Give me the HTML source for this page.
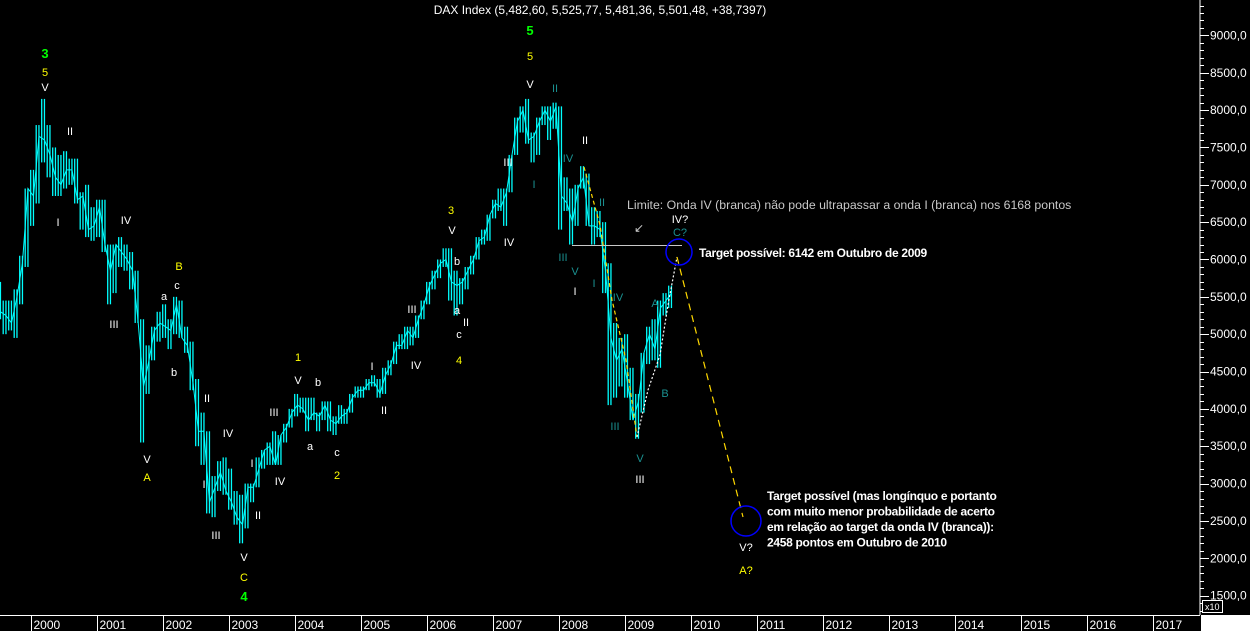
<!DOCTYPE html>
<html><head><meta charset="utf-8"><style>
html,body{margin:0;padding:0;background:#000;}
svg{display:block;}
text{font-family:"Liberation Sans",sans-serif;}
</style></head><body>
<svg id="chart" width="1250" height="631" viewBox="0 0 1250 631" xmlns="http://www.w3.org/2000/svg">
<rect width="1250" height="631" fill="#000"/>
<g id="grid"></g>
<g id="bars"></g>
<g id="ann"></g>
</svg>
<script>
const startYear = 1999.5; // July 1999
const highs = [5700,5450,5450,5600,6050,6950,
7200,7800,8150,7800,7500,7400,7450,7350,7350,6900,7000,6700,
6800,6800,6200,6200,6300,6200,6100,5850,5200,4850,5100,5300,
5400,5200,5500,5450,5100,4900,4400,3950,3700,3100,3300,3350,
3200,2900,2850,3000,3000,3350,3450,3550,3700,3650,3800,4000,
4200,4150,4150,4150,3950,4100,4100,3900,4050,4000,4200,4300,
4300,4400,4450,4400,4550,4650,4900,5000,5100,5100,5250,5450,
5700,5850,6000,6150,6150,5850,5750,5900,6050,6300,6400,6600,
6800,6950,6950,7400,7900,8050,8150,7700,7900,8050,8050,8100,
8050,7100,6950,7000,7250,7150,6700,6650,6500,5950,5150,4950,
5000,4550,4200,4750,5100,5200,5450,5550,5650];
const lows = [5200,5000,5050,4950,5400,5900,
6450,6750,7300,7100,6850,6850,6950,7000,6750,6400,6300,6250,
6300,6100,5400,5550,5900,5850,5600,5150,3550,4200,4650,4900,
4950,4800,5000,4950,4750,4250,3500,3250,2600,2550,2900,2850,
2650,2450,2200,2400,2750,2950,3200,3250,3250,3250,3550,3750,
3900,3950,3700,3850,3700,3850,3700,3650,3800,3800,3950,4150,
4150,4250,4300,4150,4200,4450,4600,4800,4800,4850,4950,5200,
5400,5600,5750,5900,5450,5250,5400,5600,5800,6000,6200,6250,
6550,6650,6450,6900,7400,7700,7550,7300,7400,7800,7600,7750,
6400,6650,6200,6450,6950,6450,6200,6300,5550,4050,4150,4300,
4150,3850,3600,3950,4600,4650,4550,5250,5350];
const closes = [5300,5250,5150,5500,5950,6950,
6850,7650,7600,7400,7100,7000,7200,7200,6800,6850,6400,6450,
6700,6200,5850,6200,6100,6000,5850,5200,4300,4650,5050,5150,
5100,5050,5400,4950,4850,4350,3700,3700,2750,2950,3150,2900,
2750,2550,2450,2950,2950,3200,3450,3500,3250,3650,3750,3950,
4050,4000,3850,3950,3900,4050,3850,3800,3900,3950,4150,4250,
4250,4350,4350,4200,4450,4600,4850,4850,5050,4950,5200,5400,
5650,5800,5950,6000,5700,5650,5700,5850,6000,6250,6300,6600,
6750,6700,6900,7400,7850,8000,7600,7650,7850,8000,7850,8050,
6850,6750,6500,6950,7100,6450,6450,6400,5850,4950,4650,4800,
4350,3850,4100,4750,5000,4800,5350,5450,5550];
const yTicks = [1500,2000,2500,3000,3500,4000,4500,5000,5500,6000,6500,7000,7500,8000,8500,9000];
const years = [2000,2001,2002,2003,2004,2005,2006,2007,2008,2009,2010,2011,2012,2013,2014,2015,2016,2017];

const NS="http://www.w3.org/2000/svg";
function X(t){return 30.7+66*(t-2000);}
function Y(v){return 595.6-(v-1500)*0.07469;}
function mk(tag,attrs,parent){const e=document.createElementNS(NS,tag);for(const k in attrs)e.setAttribute(k,attrs[k]);parent.appendChild(e);return e;}
const grid=document.getElementById('grid'),bars=document.getElementById('bars'),ann=document.getElementById('ann');

let ax=mk('line',{x1:1200,y1:0,x2:1200,y2:615,stroke:'#fff','stroke-width':1},grid);


for(let v=1300;v<=9500;v+=100){
  const y=Math.round(Y(v))+0.5;if(y<0||y>612)continue;
  const major=v%500===0;
  let tk=mk('line',{x1:1200,y1:y,x2:major?1209:1204,y2:y,stroke:'#fff','stroke-width':1},grid);
  
  
}
yTicks.forEach(v=>{
  let t=mk('text',{x:1210,y:Y(v)+4,fill:'#fff','font-size':12},grid);
  t.textContent=v.toFixed(1).replace('.',',');
  
  
});
mk('rect',{x:1201,y:615,width:49,height:16,fill:'#fff'},grid);
mk('rect',{x:1202.5,y:600.5,width:20,height:12,fill:'#000',stroke:'#fff'},grid);
let x10=mk('text',{x:1205,y:610,fill:'#fff','font-size':9},grid);x10.textContent='x10';


let bl=mk('line',{x1:0,y1:615.5,x2:1200,y2:615.5,stroke:'#fff'},grid);


years.forEach(yr=>{
  const x=Math.round(X(yr))+0.5;
  mk('line',{x1:x,y1:615,x2:x,y2:631,stroke:'#fff'},grid);
  let t=mk('text',{x:x+2,y:629,fill:'#fff','font-size':12},grid);
  t.textContent=yr;
  
  
});
let pts=[];
for(let i=0;i<highs.length;i++){
  const t=startYear+i/12;
  for(let k=0;k<2;k++){
    const x=X(t+k/24);
    const b=mk('line',{x1:x,y1:Y(highs[i]),x2:x,y2:Y(lows[i]),stroke:'#00ffff','stroke-width':1.3},bars);
    
    
  }
  pts.push(X(t+1/24).toFixed(1)+','+Y(closes[i]).toFixed(1));
}
let pl=mk('polyline',{points:pts.join(' '),fill:'none',stroke:'#00ffff','stroke-width':1},bars);



const W='#fff',Yl='#ffff00',G='#00ff00',T='#1a9090';
const labels=[
['3',45,58,G,1],['5',45,76,Yl],['V',45,91,W],['II',70,135,W],['I',58,226,W],['IV',126,224,W],['III',114,328,W],
['V',147,463,W],['A',147,481,Yl],['B',179,270,Yl],['c',177,289,W],['a',164,300,W],['b',174,376,W],
['II',207,402,W],['I',204,488,W],['III',216,539,W],['IV',228,437,W],['V',244,561,W],['C',244,581,Yl],['4',244,601,G,1],
['I',252,467,W],['II',258,519,W],['III',274,416,W],['IV',280,485,W],['1',298,361,Yl],['V',298,384,W],['b',318,386,W],
['a',310,450,W],['c',337,456,W],['2',337,479,Yl],['I',372,370,W],['II',384,414,W],['III',412,313,W],['IV',416,369,W],
['3',451,214,Yl],['V',452,234,W],['b',457,265,W],['a',457,314,W],['II',466,326,W],['c',459,338,W],['4',459,364,Yl],
['III',508,166,W],['IV',509,246,W],['I',534,188,T],['V',530,88,W],['5',530,60,Yl],['5',530,35,G,1],
['II',555,92,T],['IV',568,162,T],['II',585,144,W],['II',602,206,T],['III',563,261,T],['V',575,275,T],['I',575,295,W],
['I',594,287,T],['IV',618,301,T],['A',655,307,T],['III',615,430,T],['V',640,462,T],['III',640,483,W],['B',665,397,T],
['IV?',680,223,W],['C?',680,236,T],['V?',746,551,W],['A?',746,574,Yl]];
labels.forEach(l=>{
  let t=mk('text',{x:l[1],y:l[2],fill:l[3],'font-size':l[4]?13:11,'font-weight':l[4]?'bold':'normal','text-anchor':'middle'},ann);
  t.textContent=l[0];
  
  
});
let title=mk('text',{x:600,y:14,fill:'#fff','font-size':12,'text-anchor':'middle'},ann);
title.textContent='DAX Index (5,482,60, 5,525,77, 5,481,36, 5,501,48, +38,7397)';


let lim=mk('text',{x:627,y:209,fill:'#c8c8c8','font-size':12.3},ann);
lim.textContent='Limite: Onda IV (branca) não pode ultrapassar a onda I (branca) nos 6168 pontos';


let arr=mk('text',{x:634,y:232,fill:'#c8c8c8','font-size':12},ann);arr.textContent='↙';


let hl=mk('line',{x1:572,y1:245.5,x2:682,y2:245.5,stroke:'#c8c8c8'},ann);


let yd1=mk('polyline',{points:'584,167 600,225 612,300 626,360 637,437',fill:'none',stroke:'#ffd800','stroke-width':1.2,'stroke-dasharray':'4,3'},ann);


let wd=mk('polyline',{points:'637,437 648,390 660,355 668,305 677,257',fill:'none',stroke:'#fff','stroke-width':1.2,'stroke-dasharray':'2,2'},ann);


let yd2=mk('line',{x1:677,y1:257,x2:743,y2:517,stroke:'#ffd800','stroke-width':1.2,'stroke-dasharray':'7,5'},ann);


let c1=mk('ellipse',{cx:679,cy:252,rx:13,ry:13,fill:'none',stroke:'#0000ff','stroke-width':1.5},ann);


let c2=mk('ellipse',{cx:746,cy:521,rx:15,ry:15,fill:'none',stroke:'#0000ff','stroke-width':1.5},ann);


let t1=mk('text',{x:699,y:257,fill:'#fff','font-size':12,'font-weight':'bold','letter-spacing':'-0.3'},ann);
t1.textContent='Target possível: 6142 em Outubro de 2009';


['Target possível (mas longínquo e portanto','com muito menor probabilidade de acerto','em relação ao target da onda IV (branca)):','2458 pontos em Outubro de 2010'].forEach((s,i)=>{
  let t=mk('text',{x:767,y:500+i*15.5,fill:'#fff','font-size':12,'font-weight':'bold','letter-spacing':'-0.3'},ann);
  t.textContent=s;
  
  
});
</script>
</body></html>
